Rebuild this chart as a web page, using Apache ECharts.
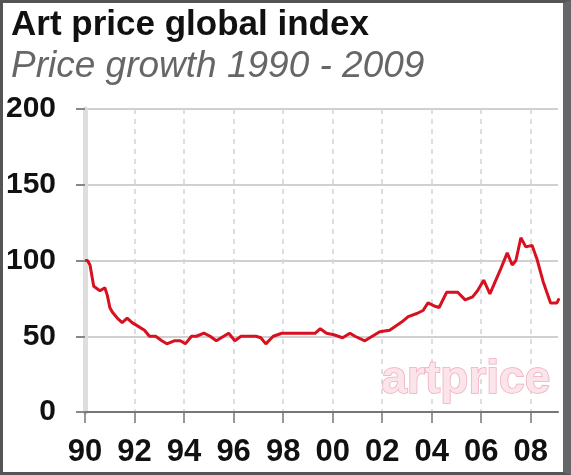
<!DOCTYPE html>
<html>
<head>
<meta charset="utf-8">
<script src="https://cdn.jsdelivr.net/npm/echarts@6/dist/echarts.min.js"></script>
<style>
html,body{margin:0;padding:0;background:#fff;}
#c{width:571px;height:475px;box-sizing:border-box;border:3px solid #555;border-right:8px solid #666;background:#fff;}
</style>
</head>
<body>
<div id="c"></div>
<script>
// ---- data ----
var titleText = 'Art price global index';
var subtitleText = 'Price growth 1990 - 2009';
var years = [1990.0,1990.1,1990.2,1990.35,1990.6,1990.8,1990.9,1991.0,1991.1,1991.3,1991.5,1991.7,1991.9,
  1992.1,1992.4,1992.6,1992.85,1993.1,1993.3,1993.6,1993.85,1994.05,1994.3,1994.5,1994.8,1995.05,1995.3,
  1995.6,1995.8,1996.05,1996.3,1996.9,1997.1,1997.3,1997.6,1997.95,1999.3,1999.5,1999.75,2000.05,2000.4,
  2000.7,2000.9,2001.3,2001.6,2001.9,2002.3,2002.8,2003.05,2003.4,2003.65,2003.85,2004.1,2004.3,2004.6,
  2005.05,2005.35,2005.65,2005.85,2006.1,2006.35,2006.8,2007.05,2007.25,2007.4,2007.6,2007.8,2008.05,
  2008.25,2008.5,2008.8,2009.05,2009.15];
var values = [100,100,97,83,80,82,77,69,66,62,59,62,59,
  57,54,50,50,47,45,47,47,45,50,50,52,50,47,
  50,52,47,50,50,49,45,50,52,52,55,52,51,49,
  52,50,47,50,53,54,59.5,63,65,67,72,70,69,79,
  79,74,76,80,87,78,95,105,97,100,115,109,110,
  101,86,72,72,75];
var xTickYears = [1990,1992,1994,1996,1998,2000,2002,2004,2006,2008];
var xTickLabels = ['90','92','94','96','98','00','02','04','06','08'];
var yTickValues = [0,50,100,150,200];
var watermark = 'artprice';

var seriesData = years.map(function(y,i){return [y, values[i]];});
var labelFont = "'Liberation Sans',Arial,sans-serif";

var chart = echarts.init(document.getElementById('c'), null, {renderer:'canvas'});
chart.setOption({
  animation:false,
  backgroundColor:'#fff',
  title:{
    text:titleText,
    subtext:subtitleText,
    left:3, top:0,
    itemGap:5,
    textStyle:{fontFamily:"'Liberation Sans',Arial,sans-serif",fontSize:35,fontWeight:'bold',color:'#111'},
    subtextStyle:{fontFamily:"'Liberation Sans',Arial,sans-serif",fontSize:37,fontStyle:'italic',color:'#666'}
  },
  grid:{left:79,right:5,top:106,bottom:60,containLabel:false},
  xAxis:{
    type:'value', min:1990, max:2009.1,
    axisLine:{show:true,onZero:false,lineStyle:{color:'#777',width:2}},
    axisTick:{show:true,length:11,customValues:xTickYears,lineStyle:{color:'#777',width:1.5}},
    axisLabel:{customValues:xTickYears,margin:25,fontFamily:labelFont,fontSize:31,fontWeight:'bold',color:'#111',
      formatter:function(v){var i=xTickYears.indexOf(Math.round(v));return i>=0?xTickLabels[i]:'';}},
    splitLine:{show:true,lineStyle:{color:'#d4d4d4',width:1.5,type:[5,5]}}
  },
  yAxis:{
    type:'value', min:0, max:200, interval:50,
    axisLine:{show:true,lineStyle:{color:'#dedede',width:5}},
    axisTick:{show:true,inside:false,length:9,customValues:yTickValues,lineStyle:{color:'#888',width:2}},
    axisLabel:{customValues:yTickValues,margin:29,fontFamily:labelFont,fontSize:30,fontWeight:'bold',color:'#111'},
    splitLine:{show:true,lineStyle:{color:'#d0d0d0',width:2}}
  },
  graphic:[{
    type:'text', right:12, top:354, z:1, silent:true,
    style:{text:watermark,fontFamily:"'Liberation Sans',Arial,sans-serif",fontSize:46,fontWeight:'bold',
      fill:'#fbe4ea',stroke:'#f0a9bc',lineWidth:1.5}
  }],
  series:[{
    type:'line', data:seriesData, showSymbol:false, z:5,
    lineStyle:{color:'#d81020',width:3}
  }]
});
</script>
</body>
</html>
